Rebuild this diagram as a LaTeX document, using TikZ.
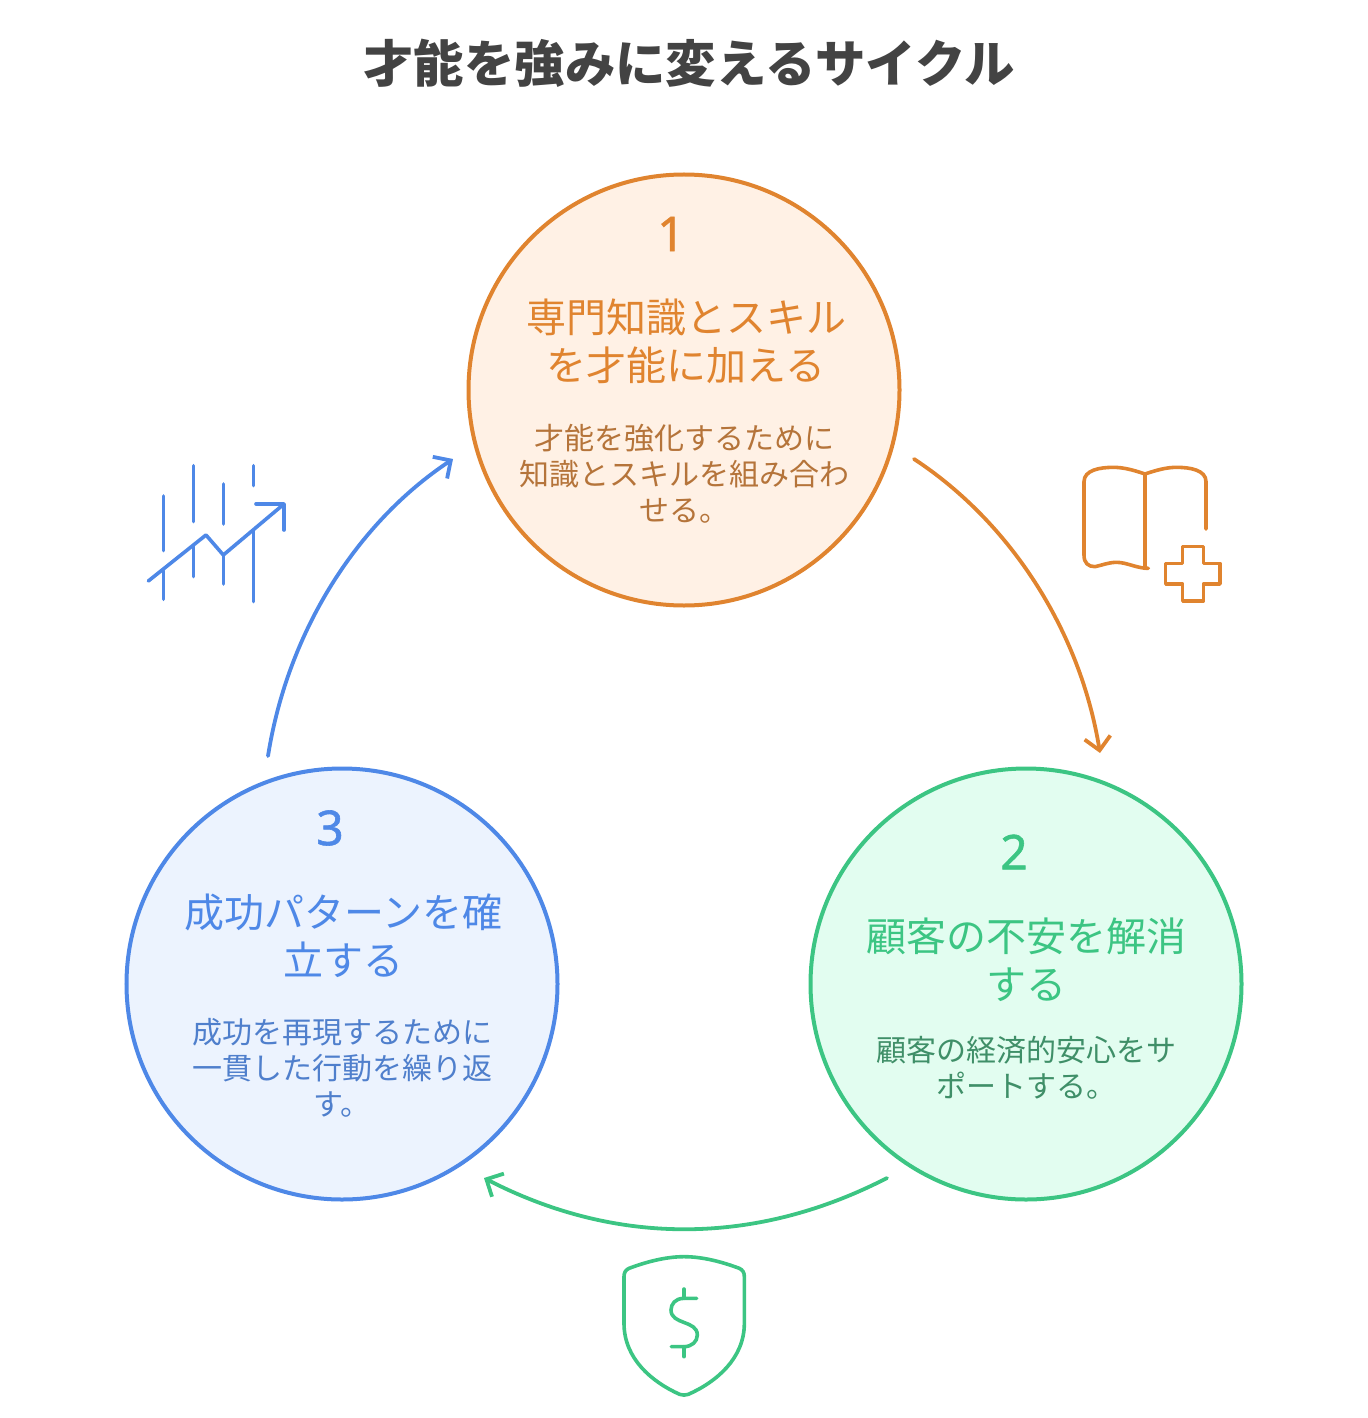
\documentclass[tikz,border=0pt]{standalone}
\usepackage{fontspec}
\setmainfont{Noto Sans CJK JP}
\newfontfamily\numfont[FakeBold=1.2]{Noto Sans}
\usetikzlibrary{arrows.meta}
\definecolor{cOr}{HTML}{E0842F}
\definecolor{fOr}{HTML}{FFF1E5}
\definecolor{tOr}{HTML}{B5743A}
\definecolor{cGr}{HTML}{3CC583}
\definecolor{fGr}{HTML}{E2FDF0}
\definecolor{tGr}{HTML}{3F8F68}
\definecolor{cBl}{HTML}{4E88E7}
\definecolor{fBl}{HTML}{ECF3FE}
\definecolor{tBl}{HTML}{4F7FCC}
\definecolor{cTi}{HTML}{434343}
\tikzset{
  x=1bp,y=-1bp,
  disc/.style={circle,draw=#1,line width=4bp,minimum size=431bp,inner sep=0pt},
  numtxt/.style={inner sep=0pt,text=#1,font=\numfont\fontsize{48bp}{48bp}\selectfont},
  headtxt/.style={inner sep=0pt,align=center,text=#1,font=\fontsize{40bp}{48bp}\selectfont},
  bodytxt/.style={inner sep=0pt,align=center,text=#1,font=\fontsize{30bp}{36bp}\selectfont},
  flow/.style={draw=#1,line width=3.8bp,line cap=round,line join=round,-{Straight Barb[length=13bp,width=26bp,line width=3.8bp]}},
  icon/.style={draw=#1,line width=3.6bp,line cap=round,line join=round},
}
\begin{document}
\begin{tikzpicture}
\useasboundingbox (0,0) rectangle (1368,1418);
\node[inner sep=0pt,text=cTi,font=\bfseries\fontsize{50.4bp}{51bp}\selectfont] (title) at (689,63.5) {才能を強みに変えるサイクル};

\node[disc=cOr,fill=fOr] (c1) at (684,390) {};
\node[disc=cGr,fill=fGr] (c2) at (1026,984) {};
\node[disc=cBl,fill=fBl] (c3) at (342,984) {};

\node[numtxt=cOr] (n1) at (671,234) {1};
\node[headtxt=cOr] (h1) at (686,341.5) {専門知識とスキル\\を才能に加える};
\node[bodytxt=tOr] (b1) at (684,474) {才能を強化するために\\知識とスキルを組み合わ\\せる。};

\node[numtxt=cGr] (n2) at (1014,852) {2};
\node[headtxt=cGr] (h2) at (1026,959.5) {顧客の不安を解消\\する};
\node[bodytxt=tGr] (b2) at (1026,1068) {顧客の経済的安心をサ\\ポートする。};

\node[numtxt=cBl] (n3) at (330,828) {3};
\node[headtxt=cBl] (h3) at (343.5,935.5) {成功パターンを確\\立する};
\node[bodytxt=tBl] (b3) at (342,1068) {成功を再現するために\\一貫した行動を繰り返\\す。};

\coordinate (a1s) at (914,459);
\coordinate (a1e) at (1100,753);
\coordinate (a2s) at (887,1178);
\coordinate (a2e) at (484,1178);
\coordinate (a3s) at (268,756);
\coordinate (a3e) at (453,459);
\draw[flow=cOr] (a1s) .. controls (1010,522) and (1080,630) .. (a1e);
\draw[flow=cGr] (a2s) .. controls (755,1246) and (616,1246) .. (a2e);
\draw[flow=cBl] (a3s) .. controls (288,630) and (358,522) .. (a3e);

% chart icon
\begin{scope}[shift={(130,450)},x=1bp/3,y=-1bp/3]
\draw[icon=cBl] (100,138)--(100,302) (100,362)--(100,448)
  (190,47)--(190,215) (190,285)--(190,380)
  (280,102)--(280,222) (280,315)--(280,402)
  (370,47)--(370,107) (370,240)--(370,455);
\draw[icon=cBl] (55,393)--(228,255)--(280,315)--(462,162);
\draw[icon=cBl] (378,162)--(462,162)--(462,240);
\end{scope}

% book icon
\begin{scope}[shift={(1070,450)},x=1bp/3,y=-1bp/3]
\draw[icon=cOr] (225,72) .. controls (190,60) and (160,52) .. (130,52)
  .. controls (90,52) and (42,60) .. (42,95) -- (42,315)
  .. controls (42,340) and (55,350) .. (75,350)
  .. controls (95,346) and (115,337) .. (140,337)
  .. controls (170,337) and (200,355) .. (235,355);
\draw[icon=cOr] (225,72) .. controls (260,60) and (290,52) .. (320,52)
  .. controls (360,52) and (408,60) .. (408,95) -- (408,237);
\draw[icon=cOr] (225,72)--(225,355);
\draw[icon=cOr] (338,290)--(400,290)--(400,340)--(450,340)--(450,402)--(400,402)--(400,453)--(338,453)--(338,402)--(287,402)--(287,340)--(338,340)--cycle;
\end{scope}

% shield icon
\begin{scope}[shift={(610,1245)},x=1bp/3,y=-1bp/3]
\draw[icon=cGr] (222,35) .. controls (280,35) and (340,52) .. (388,70)
  .. controls (398,75) and (403,82) .. (403,95) -- (403,235)
  .. controls (403,340) and (320,410) .. (235,448)
  .. controls (227,451) and (217,451) .. (209,448)
  .. controls (124,410) and (42,340) .. (42,235) -- (42,95)
  .. controls (42,82) and (47,75) .. (57,70)
  .. controls (105,52) and (165,35) .. (222,35) -- cycle;
\draw[icon=cGr] (260,160) -- (222,160)
  .. controls (195,160) and (183,178) .. (183,195)
  .. controls (183,240) and (262,225) .. (262,270)
  .. controls (262,290) and (245,305) .. (222,305) -- (184,305);
\draw[icon=cGr] (222,132)--(222,160) (222,305)--(222,335);
\end{scope}
\end{tikzpicture}
\end{document}
